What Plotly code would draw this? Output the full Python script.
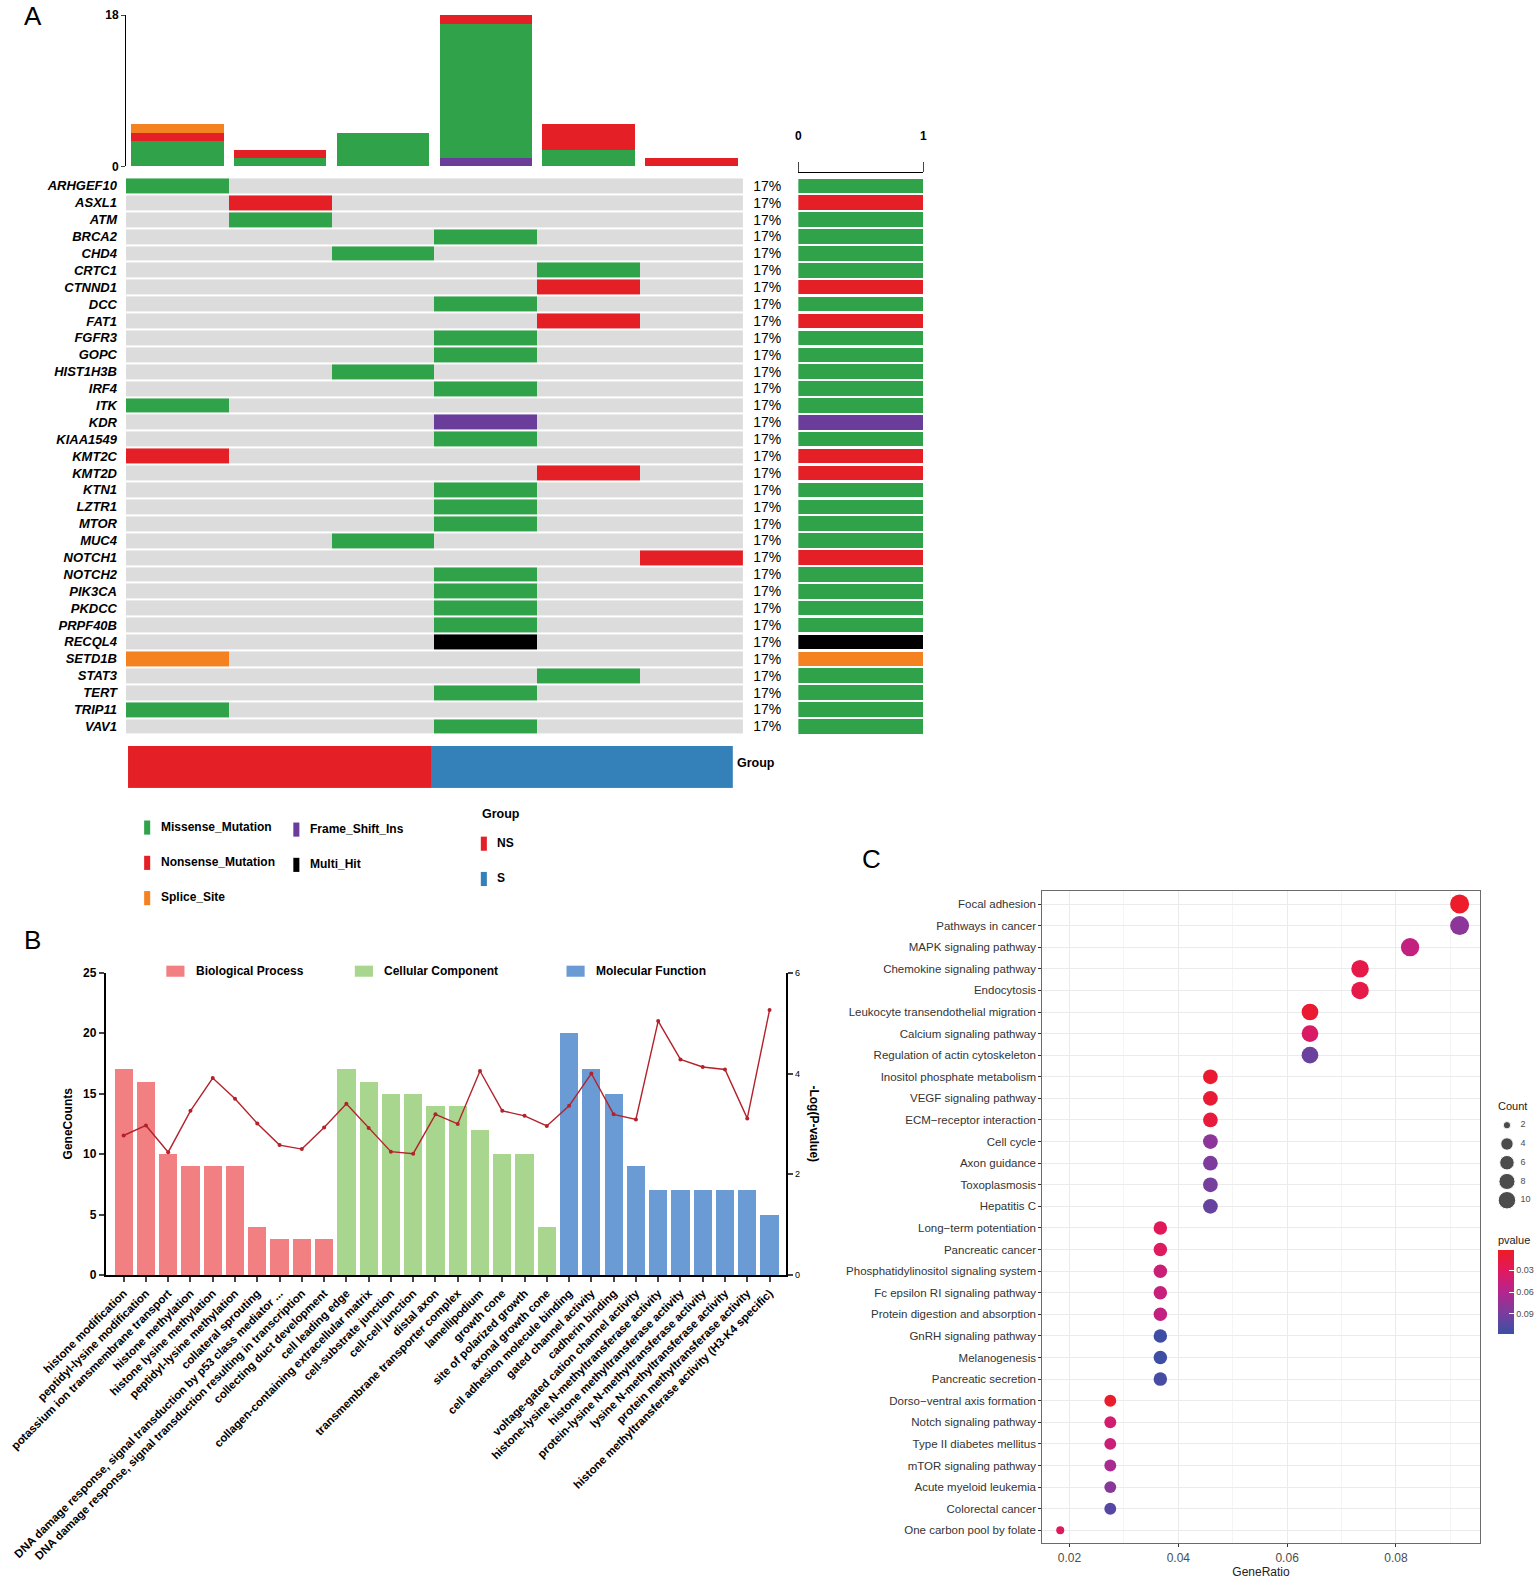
import math
import plotly.graph_objects as go

W, H = 1535, 1580
S = 1.008

NARROW = "Liberation Sans Narrow, Arial Narrow, Liberation Sans, sans-serif"
ARIAL = "Liberation Sans, Arial, sans-serif"

# ---------------- Panel A: oncoplot data ----------------
samples = ["T1", "T2", "T3", "T4", "T5", "T6"]
sample_group = ["NS", "NS", "NS", "S", "S", "S"]

# stacked variant counts per sample (top bar)
tmb_frame_shift = [0, 0, 0, 1, 0, 0]
tmb_missense = [3, 1, 4, 16, 2, 0]
tmb_nonsense = [1, 1, 0, 1, 3, 1]
tmb_splice = [1, 0, 0, 0, 0, 0]

genes = ["ARHGEF10", "ASXL1", "ATM", "BRCA2", "CHD4", "CRTC1", "CTNND1", "DCC",
         "FAT1", "FGFR3", "GOPC", "HIST1H3B", "IRF4", "ITK", "KDR", "KIAA1549",
         "KMT2C", "KMT2D", "KTN1", "LZTR1", "MTOR", "MUC4", "NOTCH1", "NOTCH2",
         "PIK3CA", "PKDCC", "PRPF40B", "RECQL4", "SETD1B", "STAT3", "TERT",
         "TRIP11", "VAV1"]
gene_sample = [1, 2, 2, 4, 3, 5, 5, 4, 5, 4, 4, 3, 4, 1, 4, 4,
               1, 5, 4, 4, 4, 3, 6, 4, 4, 4, 4, 4, 1, 5, 4, 1, 4]
gene_variant = ["Missense_Mutation", "Nonsense_Mutation", "Missense_Mutation",
                "Missense_Mutation", "Missense_Mutation", "Missense_Mutation",
                "Nonsense_Mutation", "Missense_Mutation", "Nonsense_Mutation",
                "Missense_Mutation", "Missense_Mutation", "Missense_Mutation",
                "Missense_Mutation", "Missense_Mutation", "Frame_Shift_Ins",
                "Missense_Mutation", "Nonsense_Mutation", "Nonsense_Mutation",
                "Missense_Mutation", "Missense_Mutation", "Missense_Mutation",
                "Missense_Mutation", "Nonsense_Mutation", "Missense_Mutation",
                "Missense_Mutation", "Missense_Mutation", "Missense_Mutation",
                "Multi_Hit", "Splice_Site", "Missense_Mutation", "Missense_Mutation",
                "Missense_Mutation", "Missense_Mutation"]

# ---------------- Panel B: GO enrichment data ----------------
go_terms_bp = ["histone modification", "peptidyl-lysine modification",
               "potassium ion transmembrane transport", "histone methylation",
               "histone lysine methylation", "peptidyl-lysine methylation",
               "collateral sprouting",
               "DNA damage response, signal transduction by p53 class mediator ...",
               "DNA damage response, signal transduction resulting in transcription",
               "collecting duct development"]
go_counts_bp = [17, 16, 10, 9, 9, 9, 4, 3, 3, 3]
go_logp_bp = [2.77, 2.97, 2.44, 3.26, 3.91, 3.50, 3.01, 2.58, 2.50, 2.93]

go_terms_cc = ["cell leading edge", "collagen-containing extracellular matrix",
               "cell-substrate junction", "cell-cell junction", "distal axon",
               "transmembrane transporter complex", "lamellipodium", "growth cone",
               "site of polarized growth", "axonal growth cone"]
go_counts_cc = [17, 16, 15, 15, 14, 14, 12, 10, 10, 4]
go_logp_cc = [3.40, 2.92, 2.45, 2.41, 3.19, 3.00, 4.05, 3.26, 3.16, 2.96]

go_terms_mf = ["cell adhesion molecule binding", "gated channel activity",
               "cadherin binding", "voltage-gated cation channel activity",
               "histone-lysine N-methyltransferase activity",
               "histone methyltransferase activity",
               "protein-lysine N-methyltransferase activity",
               "lysine N-methyltransferase activity",
               "protein methyltransferase activity",
               "histone methyltransferase activity (H3-K4 specific)"]
go_counts_mf = [20, 17, 15, 9, 7, 7, 7, 7, 7, 5]
go_logp_mf = [3.36, 4.00, 3.19, 3.09, 5.04, 4.28, 4.13, 4.08, 3.11, 5.26]

# ---------------- Panel C: KEGG dot plot data ----------------
kegg_terms = ["Focal adhesion", "Pathways in cancer", "MAPK signaling pathway",
              "Chemokine signaling pathway", "Endocytosis",
              "Leukocyte transendothelial migration", "Calcium signaling pathway",
              "Regulation of actin cytoskeleton", "Inositol phosphate metabolism",
              "VEGF signaling pathway", "ECM\u2212receptor interaction", "Cell cycle",
              "Axon guidance", "Toxoplasmosis", "Hepatitis C",
              "Long\u2212term potentiation", "Pancreatic cancer",
              "Phosphatidylinositol signaling system", "Fc epsilon RI signaling pathway",
              "Protein digestion and absorption", "GnRH signaling pathway",
              "Melanogenesis", "Pancreatic secretion", "Dorso\u2212ventral axis formation",
              "Notch signaling pathway", "Type II diabetes mellitus",
              "mTOR signaling pathway", "Acute myeloid leukemia", "Colorectal cancer",
              "One carbon pool by folate"]
kegg_count = [10, 10, 9, 8, 8, 7, 7, 7, 5, 5, 5, 5, 5, 5, 5,
              4, 4, 4, 4, 4, 4, 4, 4, 3, 3, 3, 3, 3, 3, 2]
kegg_ratio = [0.0917, 0.0917, 0.0826, 0.0734, 0.0734, 0.0642, 0.0642, 0.0642,
              0.0459, 0.0459, 0.0459, 0.0459, 0.0459, 0.0459, 0.0459,
              0.0367, 0.0367, 0.0367, 0.0367, 0.0367, 0.0367, 0.0367, 0.0367,
              0.0275, 0.0275, 0.0275, 0.0275, 0.0275, 0.0275, 0.0183]
kegg_pvalue = [0.005, 0.080, 0.050, 0.020, 0.020, 0.008, 0.035, 0.095,
               0.008, 0.010, 0.014, 0.080, 0.087, 0.090, 0.097,
               0.028, 0.032, 0.045, 0.047, 0.050, 0.115, 0.115, 0.112,
               0.006, 0.040, 0.045, 0.065, 0.082, 0.105, 0.030]
count_legend = [2, 4, 6, 8, 10]


# ---------------- helpers ----------------
def dom_x(a, b):
    return [a * S / W, min(b * S / W, 1)]


def dom_y(top, bottom):
    return [max(1 - bottom * S / H, 0), 1 - top * S / H]


def px(x):
    return x * S / W


def py(y):
    return 1 - y * S / H


var_colors = {
    "Missense_Mutation": "#2fa24a",
    "Nonsense_Mutation": "#e41f26",
    "Splice_Site": "#f58220",
    "Frame_Shift_Ins": "#6a3d9a",
    "Multi_Hit": "#000000",
}
var_order = ["Missense_Mutation", "Nonsense_Mutation", "Splice_Site",
             "Frame_Shift_Ins", "Multi_Hit"]
group_colors = {"NS": "#e41f26", "S": "#3480b9"}

fig = go.Figure()

# ---- A: top stacked bars
for vals, vt in [(tmb_frame_shift, "Frame_Shift_Ins"), (tmb_missense, "Missense_Mutation"),
                 (tmb_nonsense, "Nonsense_Mutation"), (tmb_splice, "Splice_Site")]:
    fig.add_trace(go.Bar(x=samples, y=vals, width=0.9, marker=dict(color=var_colors[vt], line_width=0),
                         xaxis="x", yaxis="y", showlegend=False))

# ---- A: mutation matrix
codes = {v: i + 1 for i, v in enumerate(var_order)}
z = [[0] * len(samples) for _ in genes]
for i, (s, v) in enumerate(zip(gene_sample, gene_variant)):
    z[i][s - 1] = codes[v]
cells = ["#dcdcdc"] + [var_colors[v] for v in var_order]
cscale = []
for i, c in enumerate(cells):
    cscale += [[i / len(cells), c], [(i + 1) / len(cells), c]]
fig.add_trace(go.Heatmap(z=z, x=samples, y=genes, colorscale=cscale, zmin=-0.5, zmax=5.5,
                         showscale=False, ygap=2, xaxis="x2", yaxis="y2"))

# ---- A: right side proportion bars
pct = []
for g in genes:
    n_mut = sum(1 for gg in genes if gg == g)
    pct.append(f"{round(100 * n_mut / len(samples))}%")
for vt in var_order:
    ys = [g for g, v in zip(genes, gene_variant) if v == vt]
    fig.add_trace(go.Bar(y=ys, x=[1.0] * len(ys), orientation="h", width=0.86,
                         marker=dict(color=var_colors[vt], line_width=0),
                         xaxis="x3", yaxis="y3", showlegend=False))

# ---- A: group annotation bar
fig.add_trace(go.Heatmap(z=[[0 if g == "NS" else 1 for g in sample_group]], x=samples, y=["Group"],
                         colorscale=[[0, group_colors["NS"]], [0.5, group_colors["NS"]],
                                     [0.5, group_colors["S"]], [1, group_colors["S"]]],
                         zmin=0, zmax=1, showscale=False, xaxis="x4", yaxis="y4"))

# ---- B: GO bars + line
all_terms = go_terms_bp + go_terms_cc + go_terms_mf
for terms, counts, col in [(go_terms_bp, go_counts_bp, "#f28082"),
                           (go_terms_cc, go_counts_cc, "#a9d68f"),
                           (go_terms_mf, go_counts_mf, "#6a9bd4")]:
    fig.add_trace(go.Bar(x=terms, y=counts, width=0.82, marker=dict(color=col, line_width=0),
                         xaxis="x5", yaxis="y5", showlegend=False))
fig.add_trace(go.Scatter(x=all_terms, y=go_logp_bp + go_logp_cc + go_logp_mf, mode="lines+markers",
                         line=dict(color="#b3222b", width=1.4), marker=dict(size=4, color="#b3222b"),
                         xaxis="x5", yaxis="y6", showlegend=False))


# ---- C: KEGG dots
def dot_size(c):
    return 8 + 11 * math.sqrt((c - 2) / 8)


fig.add_trace(go.Scatter(
    x=kegg_ratio, y=kegg_terms, mode="markers", xaxis="x7", yaxis="y7", showlegend=False,
    marker=dict(size=[dot_size(c) for c in kegg_count], color=[-p for p in kegg_pvalue],
                cmin=-0.117, cmax=-0.002, line_width=0, opacity=1,
                colorscale=[[0, "#3b4fa6"], [0.25, "#7a3d9c"], [0.5, "#b4258f"],
                            [0.75, "#e0195f"], [1, "#ed1c24"]],
                colorbar=dict(x=px(1486), xanchor="left", y=py(1273), yanchor="middle",
                              lenmode="pixels", len=101, thickness=16, outlinewidth=0,
                              ypad=0, xpad=0,
                              title=dict(text="pvalue", side="top",
                                         font=dict(family=NARROW, size=11, color="#222222")),
                              tickvals=[-0.03, -0.06, -0.09], ticktext=["0.03", "0.06", "0.09"],
                              ticks="inside", ticklen=5, tickcolor="white",
                              tickfont=dict(family=NARROW, size=9, color="#4d4d4d")))))
# size legend
fig.add_trace(go.Scatter(x=[0.25] * len(count_legend), y=list(range(len(count_legend))), mode="markers",
                         marker=dict(size=[dot_size(c) * 0.92 for c in count_legend], color="black"),
                         xaxis="x8", yaxis="y8", showlegend=False))
fig.add_trace(go.Scatter(x=[0.62] * len(count_legend), y=list(range(len(count_legend))), mode="text",
                         text=[str(c) for c in count_legend], textposition="middle right",
                         textfont=dict(family=NARROW, size=9, color="#4d4d4d"),
                         xaxis="x8", yaxis="y8", showlegend=False))

hidden = dict(visible=False, showgrid=False, zeroline=False)

fig.update_layout(
    width=W, height=H, margin=dict(l=0, r=0, t=0, b=0, autoexpand=False),
    paper_bgcolor="white", plot_bgcolor="white", barmode="stack", showlegend=False,
    # A top bars
    xaxis=dict(domain=dom_x(125, 737), anchor="y", range=[-0.5, 5.5], **hidden),
    yaxis=dict(domain=dom_y(15, 165), anchor="x", range=[0, 18], tickvals=[0, 18],
               showline=True, linecolor="black", linewidth=1, ticks="outside", ticklen=4,
               showgrid=False, zeroline=False, automargin=False,
               tickfont=dict(family=NARROW, size=12, weight="bold", color="black")),
    # A matrix
    xaxis2=dict(domain=dom_x(125, 737), anchor="y2", range=[-0.5, 5.5], **hidden),
    yaxis2=dict(domain=dom_y(176, 729), anchor="x2", categoryorder="array", categoryarray=genes,
                range=[len(genes) - 0.5, -0.5], tickvals=genes, ticktext=genes,
                showgrid=False, zeroline=False, ticks="", ticklabelstandoff=8, automargin=False,
                tickfont=dict(family=NARROW, size=13, weight="bold", style="italic", color="black")),
    # A right bars
    xaxis3=dict(domain=dom_x(792, 916), anchor="free", position=py(171), side="top", range=[0, 1],
                tickvals=[0, 1], showline=True, linecolor="black", linewidth=1, ticks="outside",
                ticklen=10, showgrid=False, zeroline=False, ticklabelstandoff=18, automargin=False,
                tickfont=dict(family=NARROW, size=12, weight="bold", color="black")),
    yaxis3=dict(domain=dom_y(176, 729), anchor="x3", categoryorder="array", categoryarray=genes,
                range=[len(genes) - 0.5, -0.5], tickvals=genes, ticktext=pct, ticks="",
                showgrid=False, zeroline=False, ticklabelstandoff=16, automargin=False,
                tickfont=dict(family=NARROW, size=14, color="black")),
    # A group bar
    xaxis4=dict(domain=dom_x(127, 727), anchor="y4", range=[-0.5, 5.5], **hidden),
    yaxis4=dict(domain=dom_y(740, 782), anchor="x4", **hidden),
    # B
    xaxis5=dict(domain=dom_x(105, 780), anchor="y5", categoryorder="array", categoryarray=all_terms,
                range=[-0.8, 29.75], tickangle=-45, ticks="outside", ticklen=5, tickwidth=2,
                showline=True, linecolor="black", linewidth=2, showgrid=False, automargin=False,
                tickvals=all_terms, ticktext=all_terms,
                tickfont=dict(family=ARIAL, size=11.5, weight="bold", color="black")),
    yaxis5=dict(domain=dom_y(965, 1265), anchor="x5", range=[0, 25], dtick=5, showline=True,
                linecolor="black", linewidth=2, ticks="outside", ticklen=5, tickwidth=2,
                showgrid=False, zeroline=False, automargin=False,
                tickfont=dict(family=ARIAL, size=12, weight="bold", color="black")),
    yaxis6=dict(overlaying="y5", anchor="x5", side="right", range=[0, 6], dtick=2, showline=True,
                linecolor="black", linewidth=2, ticks="outside", ticklen=5, tickwidth=2,
                showgrid=False, zeroline=False, automargin=False,
                tickfont=dict(family=ARIAL, size=9, color="black")),
    # C
    xaxis7=dict(domain=dom_x(1034, 1468), anchor="y7", range=[0.015, 0.0954],
                tickvals=[0.02, 0.04, 0.06, 0.08], ticktext=["0.02", "0.04", "0.06", "0.08"],
                showline=True, mirror=True, linecolor="#6b6b6b", linewidth=1,
                ticks="outside", ticklen=3, tickcolor="#333333",
                showgrid=True, gridcolor="#ebebeb", zeroline=False, automargin=False,
                minor=dict(dtick=0.01, tick0=0.01, showgrid=True, gridcolor="#f4f4f4"),
                ticklabelstandoff=0,
                title=dict(text="GeneRatio", standoff=1, font=dict(family=NARROW, size=12, color="#222222")),
                tickfont=dict(family=NARROW, size=12, color="#4d4d4d")),
    yaxis7=dict(domain=dom_y(884, 1531), anchor="x7", categoryorder="array", categoryarray=kegg_terms,
                range=[len(kegg_terms) - 0.4, -0.6], showline=True, mirror=True,
                tickvals=kegg_terms, ticktext=kegg_terms,
                linecolor="#6b6b6b", linewidth=1, ticks="outside", ticklen=3, tickcolor="#333333",
                showgrid=True, gridcolor="#ebebeb", zeroline=False, automargin=False,
                tickfont=dict(family=NARROW, size=11.5, color="#333333")),
    # C count legend
    xaxis8=dict(domain=dom_x(1486, 1522), anchor="y8", range=[0, 1], **hidden),
    yaxis8=dict(domain=dom_y(1107, 1200), anchor="x8", range=[4.5, -0.5], **hidden),
)

ann = []


def label(x, y, s, size, family=NARROW, bold=True, xanchor="left", color="black", angle=0):
    ann.append(dict(x=px(x), y=py(y), xref="paper", yref="paper", text=s, showarrow=False,
                    xanchor=xanchor, yanchor="middle", textangle=angle,
                    font=dict(family=family, size=size, color=color, weight="bold" if bold else "normal")))


shapes = []


def swatch(x0, y0, w, h, color):
    shapes.append(dict(type="rect", xref="paper", yref="paper", x0=px(x0), x1=px(x0 + w),
                       y0=py(y0 + h), y1=py(y0), fillcolor=color, line_width=0))


# panel letters
label(22, 16, "A", 26, family=ARIAL, bold=False)
label(22, 933, "B", 26, family=ARIAL, bold=False)
label(853, 852, "C", 26, family=ARIAL, bold=False)

# A: group label + legend
label(729, 757, "Group", 12.5)
leg_a = [("Missense_Mutation", 143, 821), ("Nonsense_Mutation", 143, 856), ("Splice_Site", 143, 891),
         ("Frame_Shift_Ins", 291, 823), ("Multi_Hit", 291, 858)]
for name, x, y in leg_a:
    swatch(x, y - 7, 6, 14, var_colors[name])
    label(x + 15, y - 1, name, 12)
label(476, 808, "Group", 12.5)
for name, y in [("NS", 837), ("S", 872)]:
    swatch(477, y - 7, 6, 14, group_colors[name])
    label(491, y - 1, name, 12)

# B: legend + axis titles
for name, x, col in [("Biological Process", 165, "#f28082"), ("Cellular Component", 352, "#a9d68f"),
                     ("Molecular Function", 562, "#6a9bd4")]:
    swatch(x, 958, 18, 11, col)
    label(x + 27, 963, name, 12, family=ARIAL)
label(67, 1115, "GeneCounts", 12, family=ARIAL, xanchor="center", angle=-90)
label(808, 1115, "-Log(P-value)", 12, family=ARIAL, xanchor="center", angle=90)

# C: count legend title
label(1484, 1097, "Count", 11, bold=False, color="#222222")

fig.update_layout(annotations=ann, shapes=shapes)
fig.write_html("out.html", config={"displayModeBar": False},
               post_script="document.body.style.margin='0px';")
